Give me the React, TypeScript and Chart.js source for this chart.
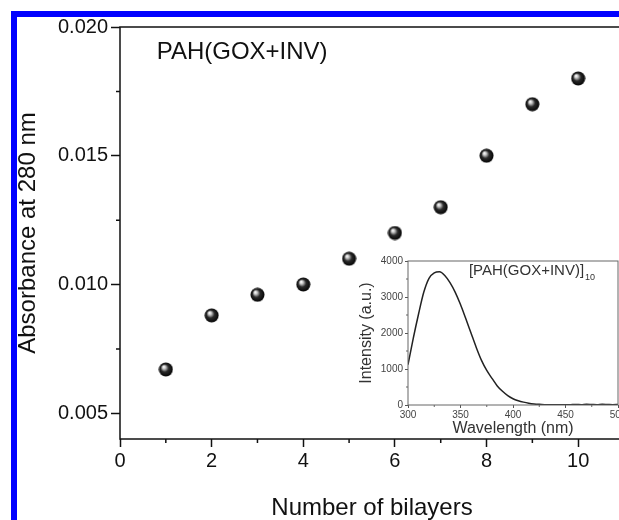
import React, { useEffect, useRef } from 'react';
import { Chart, registerables } from 'chart.js';

Chart.register(...registerables);

// ---- main chart data ----
const bilayers = [1, 2, 3, 4, 5, 6, 7, 8, 9, 10];
const absorbance = [0.0067, 0.0088, 0.0096, 0.0100, 0.0110, 0.0120, 0.0130, 0.0150, 0.0170, 0.0180];
const xTicks = [0, 2, 4, 6, 8, 10];
const xMinorTicks = [1, 3, 5, 7, 9, 11];
const yTicks = [0.005, 0.010, 0.015, 0.020];
const yMinorTicks = [0.0075, 0.0125, 0.0175];
const mainLabel = 'PAH(GOX+INV)';

// ---- inset data ----
const wavelength = [300, 305, 310, 315, 320, 325, 330, 335, 340, 345, 350, 355, 360, 365, 370, 375, 380, 385, 390, 395, 400, 405, 410, 415, 420, 425, 430, 435, 440, 445, 450, 455, 460, 465, 470, 475, 480, 485, 490, 495, 500];
const intensity = [1120, 1850, 2520, 3130, 3520, 3670, 3700, 3600, 3400, 3130, 2790, 2400, 2000, 1600, 1240, 960, 740, 530, 380, 260, 175, 120, 80, 50, 30, 18, 10, 5, 5, 10, 5, 10, 15, 10, 20, 15, 10, 20, 15, 10, 15];
const insetXTicks = [300, 350, 400, 450, 500];
const insetXMinor = [325, 375, 425, 475];
const insetYTicks = [0, 1000, 2000, 3000, 4000];
const insetYMinor = [500, 1500, 2500, 3500];
const insetLabel = '[PAH(GOX+INV)]';
const insetLabelSub = '10';

const FAMILY = '"Liberation Sans", Arial, sans-serif';

function makeSphere(): HTMLCanvasElement {
  const c = document.createElement('canvas');
  c.width = 15;
  c.height = 15;
  const g = c.getContext('2d')!;
  const grad = g.createRadialGradient(5.2, 4.8, 0.3, 7.5, 7.5, 7.5);
  grad.addColorStop(0, '#ffffff');
  grad.addColorStop(0.2, '#c4c4c4');
  grad.addColorStop(0.5, '#2a2a2a');
  grad.addColorStop(1, '#000000');
  g.fillStyle = grad;
  g.beginPath();
  g.arc(7.5, 7.5, 7, 0, Math.PI * 2);
  g.fill();
  return c;
}

function framePlugin(id: string, o: any) {
  return {
    id,
    beforeDraw(chart: any) {
      if (!o.fill) return;
      const { ctx, chartArea: a } = chart;
      ctx.save();
      ctx.fillStyle = '#ffffff';
      ctx.fillRect(a.left, a.top, a.right - a.left, a.bottom - a.top);
      ctx.restore();
    },
    afterDraw(chart: any) {
      const { ctx, chartArea: a, scales } = chart;
      ctx.save();
      ctx.strokeStyle = o.color;
      ctx.lineWidth = o.width;
      ctx.strokeRect(a.left, a.top, a.right - a.left, a.bottom - a.top);
      ctx.lineWidth = o.tickWidth;
      ctx.beginPath();
      o.minorX.forEach((v: number) => {
        const px = scales.x.getPixelForValue(v);
        ctx.moveTo(px, a.bottom);
        ctx.lineTo(px, a.bottom + o.minorLen);
      });
      o.minorY.forEach((v: number) => {
        const py = scales.y.getPixelForValue(v);
        ctx.moveTo(a.left - o.minorLen, py);
        ctx.lineTo(a.left, py);
      });
      ctx.stroke();
      ctx.restore();
    },
  };
}

export default function App() {
  const mainRef = useRef<HTMLCanvasElement>(null);
  const insetRef = useRef<HTMLCanvasElement>(null);

  useEffect(() => {
    const sphere = makeSphere();

    const mainText = {
      id: 'mainText',
      afterDatasetsDraw(chart: any) {
        const { ctx, scales } = chart;
        ctx.save();
        ctx.font = `24px ${FAMILY}`;
        ctx.fillStyle = '#111';
        ctx.textAlign = 'left';
        ctx.textBaseline = 'middle';
        ctx.fillText(mainLabel, scales.x.getPixelForValue(0.8), scales.y.getPixelForValue(0.0190));
        ctx.restore();
      },
    };

    const main = new Chart(mainRef.current!, {
      type: 'scatter',
      data: {
        datasets: [
          {
            data: bilayers.map((x, i) => ({ x, y: absorbance[i] })),
            pointStyle: sphere as any,
            pointRadius: 7,
            showLine: false,
          },
        ],
      },
      options: {
        responsive: false,
        animation: false,
        devicePixelRatio: 1,
        layout: { padding: { top: 27, right: 26, left: 0, bottom: 0 } },
        plugins: { legend: { display: false }, tooltip: { enabled: false } },
        scales: {
          x: {
            type: 'linear',
            min: 0,
            max: 11,
            afterBuildTicks: (s: any) => {
              s.ticks = xTicks.map((v) => ({ value: v }));
            },
            afterFit: (s: any) => {
              s.height = 81;
            },
            grid: { drawOnChartArea: false, drawTicks: true, tickLength: 8, tickColor: '#111', tickWidth: 1.5 },
            border: { display: false },
            ticks: { font: { size: 20, family: FAMILY }, color: '#111', padding: 2, maxRotation: 0, autoSkip: false },
            title: { display: true, text: 'Number of bilayers', font: { size: 24, family: FAMILY, lineHeight: 1.0 }, color: '#111', padding: { top: 0, bottom: 0 } },
          },
          y: {
            type: 'linear',
            min: 0.004,
            max: 0.02,
            afterBuildTicks: (s: any) => {
              s.ticks = yTicks.map((v) => ({ value: v }));
            },
            afterFit: (s: any) => {
              s.width = 120;
            },
            grid: { drawOnChartArea: false, drawTicks: true, tickLength: 9, tickColor: '#111', tickWidth: 1.5 },
            border: { display: false },
            ticks: {
              font: { size: 20, family: FAMILY },
              color: '#111',
              padding: 3,
              autoSkip: false,
              callback: (v: any) => Number(v).toFixed(3),
            },
            title: { display: true, text: 'Absorbance at 280 nm', font: { size: 24, family: FAMILY }, color: '#111', padding: { top: 14, bottom: 0 } },
          },
        },
      },
      plugins: [
        framePlugin('mainFrame', { color: '#111', width: 1.5, tickWidth: 1.5, minorLen: 4, minorX: xMinorTicks, minorY: yMinorTicks }),
        mainText,
      ],
    });

    const insetText = {
      id: 'insetText',
      afterDatasetsDraw(chart: any) {
        const { ctx, scales } = chart;
        const x = scales.x.getPixelForValue(358);
        const y = scales.y.getPixelForValue(3720);
        ctx.save();
        ctx.fillStyle = '#333';
        ctx.textAlign = 'left';
        ctx.textBaseline = 'middle';
        ctx.font = `15px ${FAMILY}`;
        ctx.fillText(insetLabel, x, y);
        const w = ctx.measureText(insetLabel).width;
        ctx.font = `9px ${FAMILY}`;
        ctx.fillText(insetLabelSub, x + w + 1, y + 6);
        ctx.restore();
      },
    };

    const inset = new Chart(insetRef.current!, {
      type: 'line',
      data: {
        datasets: [
          {
            data: wavelength.map((x, i) => ({ x, y: intensity[i] })),
            borderColor: '#222',
            borderWidth: 1.5,
            pointRadius: 0,
            cubicInterpolationMode: 'monotone',
            fill: false,
          },
        ],
      },
      options: {
        responsive: false,
        animation: false,
        devicePixelRatio: 1,
        layout: { padding: { top: 11, right: 32, left: 0, bottom: 0 } },
        plugins: { legend: { display: false }, tooltip: { enabled: false } },
        scales: {
          x: {
            type: 'linear',
            min: 300,
            max: 500,
            afterBuildTicks: (s: any) => {
              s.ticks = insetXTicks.map((v) => ({ value: v }));
            },
            afterFit: (s: any) => {
              s.height = 35;
            },
            grid: { drawOnChartArea: false, drawTicks: true, tickLength: 3, tickColor: '#555', tickWidth: 1 },
            border: { display: false },
            ticks: { font: { size: 10, family: FAMILY }, color: '#444', padding: 1, maxRotation: 0, autoSkip: false },
            title: { display: true, text: 'Wavelength (nm)', font: { size: 16, family: FAMILY }, color: '#333', padding: { top: 0, bottom: 2 } },
          },
          y: {
            type: 'linear',
            min: 0,
            max: 4000,
            afterBuildTicks: (s: any) => {
              s.ticks = insetYTicks.map((v) => ({ value: v }));
            },
            afterFit: (s: any) => {
              s.width = 58;
            },
            grid: { drawOnChartArea: false, drawTicks: true, tickLength: 3, tickColor: '#555', tickWidth: 1 },
            border: { display: false },
            ticks: { font: { size: 10, family: FAMILY }, color: '#444', padding: 2, autoSkip: false, callback: (v: any) => String(v) },
            title: { display: true, text: 'Intensity (a.u.)', font: { size: 16, family: FAMILY }, color: '#333', padding: { top: 7, bottom: 0 } },
          },
        },
      },
      plugins: [
        framePlugin('insetFrame', { fill: true, color: '#666', width: 1, tickWidth: 1, minorLen: 2, minorX: insetXMinor, minorY: insetYMinor }),
        insetText,
      ],
    });

    return () => {
      main.destroy();
      inset.destroy();
    };
  }, []);

  return (
    <div style={{ position: 'fixed', left: 0, top: 0, width: 619, height: 520, overflow: 'hidden', background: '#fff' }}>
      <canvas ref={mainRef} width={650} height={520} style={{ position: 'absolute', left: 0, top: 0 }} />
      <canvas ref={insetRef} width={300} height={190} style={{ position: 'absolute', left: 350, top: 250 }} />
      <div style={{ position: 'absolute', left: 11, top: 11, width: 6, height: 509, background: '#0000ff' }} />
      <div style={{ position: 'absolute', left: 11, top: 11, width: 608, height: 6, background: '#0000ff' }} />
    </div>
  );
}
